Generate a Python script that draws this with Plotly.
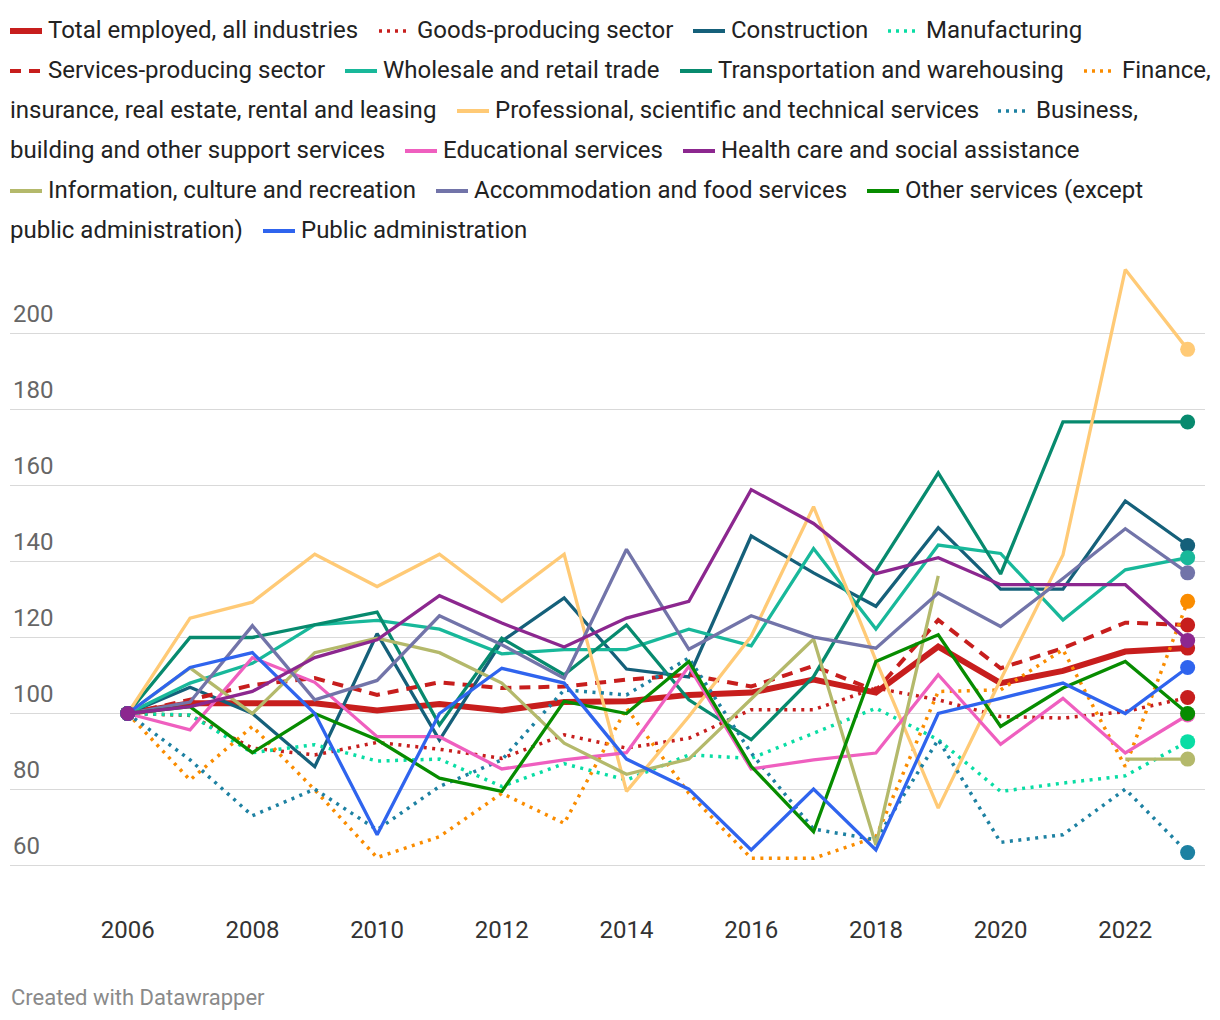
import plotly.graph_objects as go

years = list(range(2006, 2024))

total = [100, 102.7, 102.7, 102.7, 100.8, 102.5, 100.8, 103, 103.2, 104.9, 105.5, 108.9, 105.5, 117.6, 108, 111.2, 116.3, 117.2]
goods = [100, 99.5, 90.9, 89.1, 92.4, 90.6, 88.2, 94.4, 90.9, 93.5, 101, 101, 106.7, 103.6, 99.2, 98.8, 100.5, 104.2]
construction = [100, 106.9, 100, 86, 121, 93, 119, 130.4, 111.7, 109.6, 146.7, 137, 128.2, 148.9, 132.7, 132.7, 155.9, 144.2]
manufacturing = [100, 99.6, 89.7, 91.8, 87.5, 88, 80.8, 86.8, 82.5, 89.1, 88.2, 94.8, 101.4, 93.1, 79.5, 81.7, 83.6, 92.6]
services = [100, 103.6, 107.5, 109.3, 104.9, 108.2, 106.7, 107.1, 108.9, 110.2, 107.1, 112.5, 106, 124.6, 111.9, 117.2, 123.9, 123.3]
wholesale = [100, 108, 113.2, 123.3, 124.5, 122.2, 115.7, 116.8, 116.8, 122.2, 117.8, 143.4, 122.2, 144.3, 142.1, 124.6, 137.8, 141]
transport = [100, 120, 120, 123.3, 126.7, 97, 119.8, 110.2, 123.3, 103.6, 93.1, 109.7, 137.5, 163.3, 136.7, 176.7, 176.7, 176.7]
finance = [100, 82.5, 96.6, 79.9, 62.1, 67.6, 79, 71.1, 101.4, 79, 61.9, 61.9, 67.5, 105.8, 106.2, 116.8, 86, 129.5]
professional = [100, 125.1, 129.3, 141.9, 133.4, 141.9, 129.5, 141.9, 79.5, 99.2, 120.3, 154.4, 114, 75.1, 108.9, 141.7, 216.8, 195.8]
business = [100, 87.8, 73.1, 80.1, 69.4, 80.8, 87.8, 106.2, 104.9, 114.6, 89.6, 69.6, 66.8, 93.1, 66.1, 68.1, 80.1, 63.4]
educational = [100, 95.7, 114.7, 108.2, 93.9, 93.9, 85.4, 87.8, 89.7, 112.4, 85.4, 87.8, 89.6, 110.2, 91.9, 104, 89.6, 99.6]
health = [100, 101.8, 105.8, 114.7, 119.4, 131, 123.8, 117.5, 125.1, 129.5, 158.9, 150, 136.8, 141, 133.9, 133.9, 133.9, 119.2]
information = [100, 112, 100, 116, 119.8, 116, 108, 92.2, 84, 88, 103.8, 119.6, 65.4, 136.2, None, None, 88, 88]
accommodation = [100, 103, 123.1, 103.6, 108.7, 125.7, 118.1, 109.3, 143.2, 116.9, 125.7, 120.1, 117.2, 131.7, 122.9, 135.5, 148.6, 137]
other = [100, 101.8, 89.7, 100, 93.1, 83, 79.5, 103.2, 100, 113.7, 86.1, 68.9, 113.7, 120.7, 96.6, 106.7, 113.7, 100]
public = [100, 112.1, 116, 100, 68.1, 100, 111.9, 108, 88, 80.1, 64.1, 80.1, 64.1, 100, 104, 108, 100, 112.1]

x_ticks = [2006, 2008, 2010, 2012, 2014, 2016, 2018, 2020, 2022]
y_ticks = [60, 80, 100, 120, 140, 160, 180, 200]

# (name, values, color, width, dash)
series = [
    ("Total employed, all industries", total, "#c71e1d", 6, "solid"),
    ("Goods-producing sector", goods, "#c71e1d", 3.5, "3px,5.5px"),
    ("Construction", construction, "#15607a", 3.3, "solid"),
    ("Manufacturing", manufacturing, "#09dda4", 3.5, "3px,5.5px"),
    ("Services-producing sector", services, "#c71e1d", 4, "11px,8px"),
    ("Wholesale and retail trade", wholesale, "#18b89a", 3.3, "solid"),
    ("Transportation and warehousing", transport, "#078a6e", 3.3, "solid"),
    ("Finance, insurance, real estate, rental and leasing", finance, "#fa8c00", 3.5, "3px,5.5px"),
    ("Professional, scientific and technical services", professional, "#ffca76", 3.3, "solid"),
    ("Business, building and other support services", business, "#1d81a2", 3.5, "3px,5.5px"),
    ("Educational services", educational, "#ef5fbf", 3.3, "solid"),
    ("Health care and social assistance", health, "#8c278f", 3.3, "solid"),
    ("Information, culture and recreation", information, "#b4b96b", 3.3, "solid"),
    ("Accommodation and food services", accommodation, "#7274a9", 3.3, "solid"),
    ("Other services (except public administration)", other, "#078c00", 3.3, "solid"),
    ("Public administration", public, "#2f64ee", 3.3, "solid"),
]

# draw order: health care on top
draw_order = [s for s in series if not s[0].startswith("Health")] + [s for s in series if s[0].startswith("Health")]

fig = go.Figure()
n = len(years)
for name, vals, color, width, dash in draw_order:
    sizes = [15] + [0] * (n - 2) + [15]
    fig.add_trace(go.Scatter(
        x=years, y=vals, name=name, mode="lines+markers",
        line=dict(color=color, width=width, dash=dash),
        marker=dict(size=sizes, color=color, opacity=1, line=dict(width=0)),
        connectgaps=False, showlegend=False, hoverinfo="skip",
    ))

# page body has an 8px margin: work in page pixels, convert to figure pixels
OFF = 8
W, H = 1212, 1012
L, R, T, B = 10, 1205, 250, 905  # page pixels
Lf, Rf, Tf, Bf = L - OFF, R - OFF, T - OFF, B - OFF
pw, ph = Rf - Lf, Bf - Tf

def px_x(px):
    return (px - OFF - Lf) / pw

def px_y(py):
    return (Bf - (py - OFF)) / ph

# y mapping (page px): 100 -> 713.5, 3.801 px per unit
ppu = 3.801
y_top = 100 + (713.5 - T) / ppu
y_bot = 100 - (B - 713.5) / ppu
# x mapping (page px): 2006 -> 127.7, 62.35 px per year
ppy = 62.35
x_left = 2006 - (127.7 - L) / ppy
x_right = 2006 + (R - 127.7) / ppy

font_family = "Roboto, 'Noto Sans', sans-serif"
text_color = "#222222"
fs = 24

legend_items = [
    (30, 48, "Total employed, all industries", "#c71e1d", 6, "solid", True),
    (30, 417, "Goods-producing sector", "#c71e1d", 3.5, "3px,5px", True),
    (30, 731, "Construction", "#15607a", 4, "solid", True),
    (30, 926, "Manufacturing", "#09dda4", 3.5, "3px,5px", True),
    (70, 48, "Services-producing sector", "#c71e1d", 4, "11px,8px", True),
    (70, 383, "Wholesale and retail trade", "#18b89a", 4, "solid", True),
    (70, 718, "Transportation and warehousing", "#078a6e", 4, "solid", True),
    (70, 1122, "Finance,", "#fa8c00", 3.5, "3px,5px", True),
    (110, 10, "insurance, real estate, rental and leasing", None, 0, None, False),
    (110, 495, "Professional, scientific and technical services", "#ffca76", 4, "solid", True),
    (110, 1036, "Business,", "#1d81a2", 3.5, "3px,5px", True),
    (150, 10, "building and other support services", None, 0, None, False),
    (150, 443, "Educational services", "#ef5fbf", 4, "solid", True),
    (150, 721, "Health care and social assistance", "#8c278f", 4, "solid", True),
    (190, 48, "Information, culture and recreation", "#b4b96b", 4, "solid", True),
    (190, 474, "Accommodation and food services", "#7274a9", 4, "solid", True),
    (190, 905, "Other services (except", "#078c00", 4, "solid", True),
    (230, 10, "public administration)", None, 0, None, False),
    (230, 301, "Public administration", "#2f64ee", 4, "solid", True),
]

annotations = []
shapes = []
for row_y, tx, text, color, lw, dash, has_sym in legend_items:
    annotations.append(dict(
        xref="paper", yref="paper", x=px_x(tx - 2), y=px_y(row_y),
        xanchor="left", yanchor="middle", text=text, showarrow=False,
        font=dict(family=font_family, size=fs, color=text_color),
    ))
    if has_sym:
        shapes.append(dict(
            type="line", xref="paper", yref="paper",
            x0=px_x(tx - 38), x1=px_x(tx - 6), y0=px_y(row_y + 1), y1=px_y(row_y + 1),
            line=dict(color=color, width=lw, dash=dash),
        ))

annotations.append(dict(
    xref="paper", yref="paper", x=px_x(9), y=px_y(997),
    xanchor="left", yanchor="middle", text="Created with Datawrapper", showarrow=False,
    font=dict(family=font_family, size=22, color="#8a8a8a"),
))

fig.update_layout(
    width=W, height=H,
    margin=dict(l=Lf, r=W - Rf, t=Tf, b=H - Bf, pad=0),
    paper_bgcolor="white", plot_bgcolor="white",
    showlegend=False,
    annotations=annotations,
    shapes=shapes,
    font=dict(family=font_family, size=fs, color=text_color),
    xaxis=dict(
        range=[x_left, x_right], tickvals=x_ticks, ticktext=[str(v) for v in x_ticks],
        showgrid=False, zeroline=False, showline=False, ticks="",
        tickfont=dict(family=font_family, size=fs, color="#333333"),
        ticklabelstandoff=8, fixedrange=True,
    ),
    yaxis=dict(
        range=[y_bot, y_top], tickvals=y_ticks, ticktext=[str(v) for v in y_ticks],
        showgrid=True, gridcolor="#d9d9d9", gridwidth=1.6,
        zeroline=False, showline=False, ticks="",
        ticklabelposition="inside top", ticklabelshift=-3,
        tickfont=dict(family=font_family, size=fs, color="#666666"),
        fixedrange=True,
    ),
)

fig.write_html("out.html", config={"displayModeBar": False, "staticPlot": True})
